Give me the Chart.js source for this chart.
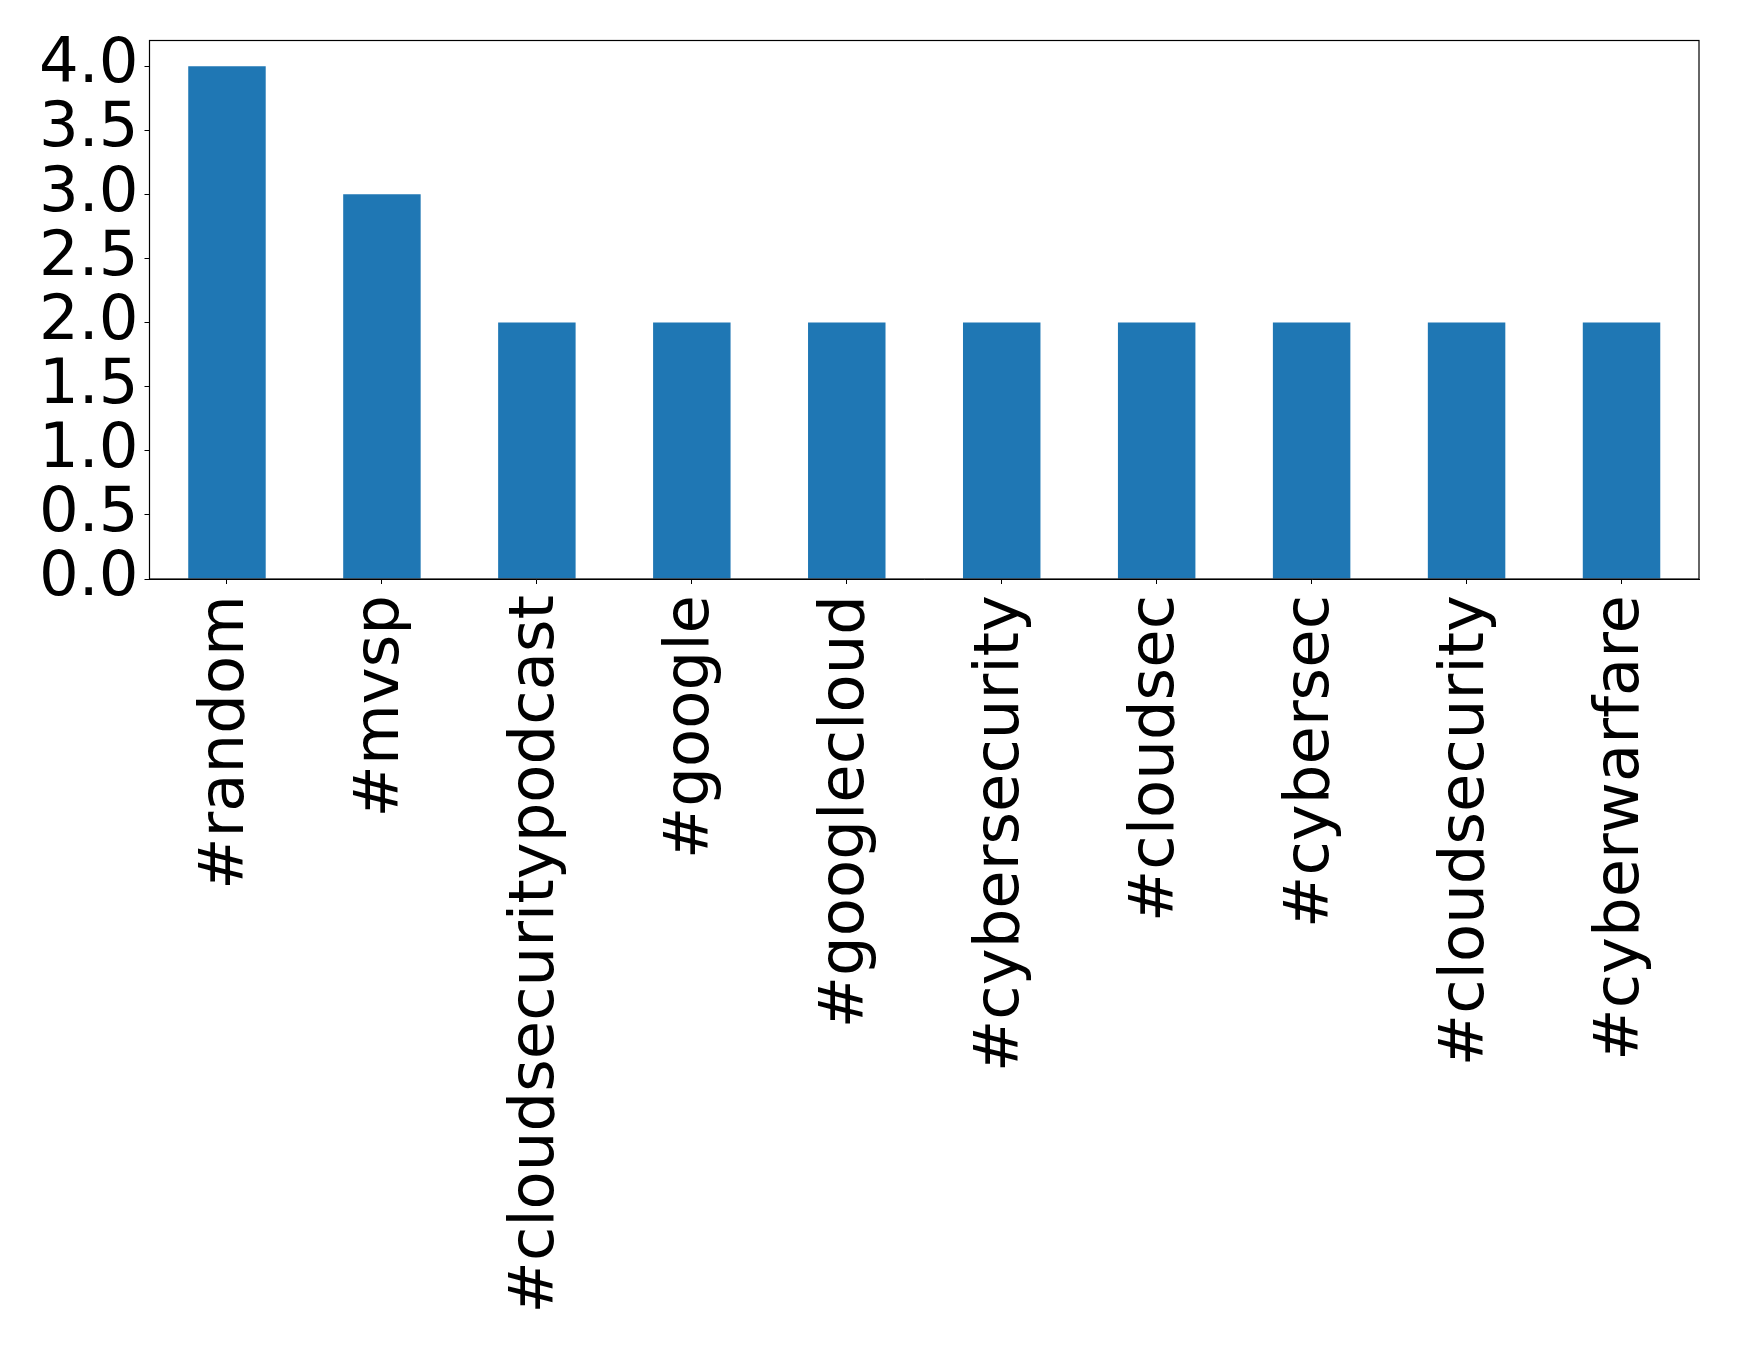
<!DOCTYPE html>
<html>
<head>
<meta charset="utf-8">
<script src="https://cdn.jsdelivr.net/npm/chart.js@4"></script>
<style>
  body { margin: 0; background: #fff; }
  canvas { display: block; }
</style>
</head>
<body>
<canvas id="tagChart" width="1739" height="1347"></canvas>
<script>
// hashtag counts
const tags = ['#random', '#mvsp', '#cloudsecuritypodcast', '#google', '#googlecloud',
              '#cybersecurity', '#cloudsec', '#cybersec', '#cloudsecurity', '#cyberwarfare'];
const counts = [4, 3, 2, 2, 2, 2, 2, 2, 2, 2];
const yTicks = [0, 0.5, 1.0, 1.5, 2.0, 2.5, 3.0, 3.5, 4.0];

// black box around the plot like matplotlib
const frame = {
    id: 'frame',
    afterDraw(chart) {
        const a = chart.chartArea;
        const c = chart.ctx;
        c.save();
        c.strokeStyle = '#000';
        c.lineWidth = 1.2;
        c.strokeRect(a.left, a.top, a.right - a.left, a.bottom - a.top);
        c.restore();
    }
};

const ctx = document.getElementById('tagChart').getContext('2d');
const tagChart = new Chart(ctx, {
    type: 'bar',
    data: {
        labels: tags,
        datasets: [{
            data: counts,
            backgroundColor: '#1f77b4',
            borderWidth: 0,
            categoryPercentage: 0.5,
            barPercentage: 1.0
        }]
    },
    options: {
        responsive: false,
        animation: false,
        devicePixelRatio: 1,
        layout: { padding: { top: 40.5, right: 40, left: 0, bottom: 0 } },
        plugins: {
            legend: { display: false },
            tooltip: { enabled: false }
        },
        scales: {
            x: {
                grid: { offset: false, drawOnChartArea: false, drawTicks: true, tickLength: 5, color: '#000' },
                border: { display: true, color: '#000', width: 1 },
                ticks: {
                    autoSkip: false,
                    minRotation: 90,
                    maxRotation: 90,
                    padding: 11,
                    color: '#000',
                    font: { family: 'DejaVu Sans', size: 62.5 }
                },
                afterFit(scale) {
                    scale.height = 1347 - 579;
                    scale.paddingLeft = 0;
                    scale.paddingRight = 0;
                }
            },
            y: {
                min: 0,
                max: 4.2,
                grid: { drawOnChartArea: false, drawTicks: true, tickLength: 5, color: '#000' },
                border: { display: true, color: '#000', width: 1 },
                afterBuildTicks(scale) { scale.ticks = yTicks.map(v => ({ value: v })); },
                ticks: {
                    autoSkip: false,
                    padding: 6,
                    color: '#000',
                    font: { family: 'DejaVu Sans', size: 62.5 },
                    callback: v => Number(v).toFixed(1)
                },
                afterFit(scale) {
                    scale.width = 149.5;
                    scale.paddingTop = 0;
                    scale.paddingBottom = 0;
                }
            }
        }
    },
    plugins: [frame]
});
</script>
</body>
</html>
